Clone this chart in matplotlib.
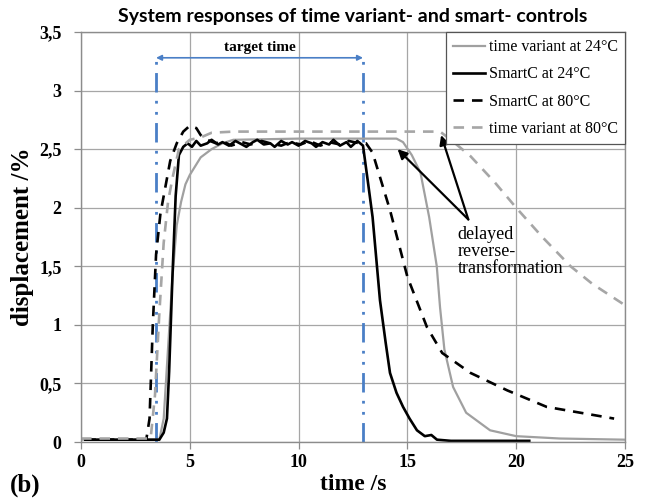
import matplotlib
matplotlib.use("Agg")
import matplotlib.pyplot as plt

# ---------------- data ----------------
tv24_t = [0, 3.6, 3.8, 4.0, 4.2, 4.4, 4.6, 4.8, 5.0, 5.5, 6.0, 6.5, 7.0, 10.0, 14.5, 14.8,
          15.2, 15.6, 16.0, 16.35, 16.5, 16.7, 17.1, 17.7, 18.8, 20.0, 22.0, 25.0]
tv24_y = [0.02, 0.02, 0.2, 0.8, 1.4, 1.85, 2.05, 2.2, 2.28, 2.43, 2.5, 2.55, 2.58, 2.59, 2.59, 2.56,
          2.45, 2.3, 1.92, 1.5, 1.15, 0.79, 0.47, 0.25, 0.1, 0.05, 0.03, 0.02]

sc24_t = [0.2, 3.6, 3.8, 3.95, 4.05, 4.2, 4.35, 4.5, 4.7, 4.9, 5.1, 5.3, 5.5, 5.8, 6.0, 6.3,
          6.5, 6.8, 7.1, 7.3, 7.6, 7.9, 8.1, 8.4, 8.7, 8.9, 9.2, 9.5, 9.7, 10.0, 10.3,
          10.6, 10.8, 11.1, 11.4, 11.6, 11.9, 12.2, 12.4, 12.7, 12.96, 13.2, 13.4, 13.74,
          14.0, 14.2, 14.5, 14.8, 15.1, 15.44, 15.8, 16.1, 16.36, 17.0, 18.0, 20.6]
sc24_y = [0.02, 0.02, 0.08, 0.2, 0.6, 1.4, 2.1, 2.45, 2.52, 2.55, 2.52, 2.57, 2.53, 2.55, 2.58, 2.54,
          2.56, 2.53, 2.57, 2.55, 2.52, 2.56, 2.58, 2.54, 2.55, 2.52, 2.57, 2.54, 2.56, 2.53, 2.57,
          2.55, 2.52, 2.56, 2.54, 2.58, 2.53, 2.56, 2.52, 2.57, 2.53, 2.2, 1.92, 1.21,
          0.85, 0.59, 0.42, 0.3, 0.2, 0.1, 0.05, 0.06, 0.02, 0.01, 0.01, 0.01]

sc80_t = [0.2, 3.0, 3.15, 3.3, 3.45, 3.65, 3.85, 4.1, 4.4, 4.7, 5.0, 5.3, 5.5, 5.8, 6.2, 6.5,
          6.9, 7.4, 7.8, 8.3, 8.7, 9.2, 9.6, 10.1, 10.5, 11.0, 11.4, 11.9, 12.3, 12.8, 13.1, 13.4,
          14.2, 15.0, 15.9, 16.6, 17.9, 19.6, 21.4, 24.5]
sc80_y = [0.02, 0.02, 0.2, 1.0, 1.6, 1.95, 2.15, 2.4, 2.55, 2.65, 2.7, 2.68, 2.62, 2.58, 2.55, 2.57,
          2.53, 2.56, 2.54, 2.57, 2.55, 2.53, 2.56, 2.54, 2.57, 2.53, 2.56, 2.54, 2.57, 2.55, 2.55, 2.47,
          1.98, 1.41, 0.98, 0.76, 0.59, 0.44, 0.3, 0.2]

tv80_t = [0, 3.2, 3.4, 3.6, 3.8, 4.0, 4.2, 4.5, 5.0, 5.5, 6.0, 7.0, 12.0, 16.5, 17.0, 17.9,
          19.0, 20.0, 21.2, 22.5, 23.5, 24.9]
tv80_y = [0.03, 0.03, 0.4, 1.1, 1.7, 2.05, 2.25, 2.5, 2.58, 2.6, 2.64, 2.65, 2.65, 2.65, 2.58, 2.44,
          2.22, 2.0, 1.75, 1.5, 1.35, 1.18]

target_start = 3.45
target_end = 12.96

x_ticks = [0, 5, 10, 15, 20, 25]
y_ticks = [0, 0.5, 1, 1.5, 2, 2.5, 3, 3.5]
y_tick_labels = ["0", "0,5", "1", "1,5", "2", "2,5", "3", "3,5"]

# ---------------- figure ----------------
serif = "Liberation Serif"
fig = plt.figure(figsize=(6.48, 4.98), dpi=100)
ax = fig.add_axes([0.125, 0.1124, 0.8395, 0.8233])

grid_c = "#a6a6a6"
ax.set_xlim(0, 25)
ax.set_ylim(0, 3.5)
ax.set_xticks(x_ticks)
ax.set_yticks(y_ticks)
ax.set_yticklabels(y_tick_labels)
ax.grid(True, color=grid_c, lw=0.9)
ax.set_axisbelow(True)
for s in ax.spines.values():
    s.set_color("#8c8c8c")
    s.set_linewidth(1.0)
ax.tick_params(axis="both", colors="#8c8c8c", length=5, width=0.9, labelcolor="black")
ax.tick_params(axis="y", pad=9)
for lab in ax.get_xticklabels() + ax.get_yticklabels():
    lab.set_fontfamily(serif)
    lab.set_fontweight("bold")
    lab.set_fontsize(13)

# target time lines
blue = "#4a7fc6"
ax.vlines([target_start, target_end], 0, 3.3, colors=blue, lw=2.0,
          linestyles=[(0, (7, 3, 1, 3, 1, 3))])
ax.annotate("", xy=(target_start, 3.28), xytext=(target_end, 3.28),
            arrowprops=dict(arrowstyle="<|-|>", color=blue, lw=1.2,
                            mutation_scale=8, shrinkA=0, shrinkB=0))
ax.text((target_start + target_end) / 2, 3.31, "target time", ha="center", va="bottom",
        fontfamily=serif, fontweight="bold", fontsize=11)

# curves
l1, = ax.plot(tv24_t, tv24_y, color="#a0a0a0", lw=1.6, label="time variant at 24°C")
l2, = ax.plot(sc24_t, sc24_y, color="black", lw=1.9, label="SmartC at 24°C")
l3, = ax.plot(sc80_t, sc80_y, color="black", lw=1.9, ls=(0, (4, 3)), label="SmartC at 80°C")
l4, = ax.plot(tv80_t, tv80_y, color="#a6a6a6", lw=1.9, ls=(0, (4, 3)), label="time variant at 80°C")

leg = ax.legend(handles=[l1, l2, l3, l4], loc="upper right", borderaxespad=0,
                prop={"family": serif, "size": 11.5}, frameon=True, fancybox=False,
                framealpha=1, edgecolor="#555555", handlelength=2.0, handletextpad=0.25,
                labelspacing=0.7, borderpad=0.45)
leg.get_frame().set_linewidth(0.9)

# annotation
ax.text(17.3, 1.84, "delayed\nreverse-\ntransformation", ha="left", va="top",
        fontfamily=serif, fontsize=13, linespacing=1.0)
for tip in [(14.55, 2.5), (16.55, 2.62)]:
    ax.annotate("", xy=tip, xytext=(17.8, 1.9),
                arrowprops=dict(arrowstyle="-|>", color="black", lw=1.6,
                                mutation_scale=14, shrinkA=0, shrinkB=0))

ax.set_xlabel("time /s", fontfamily=serif, fontweight="bold", fontsize=17, labelpad=2)
ax.set_ylabel("displacement /%", fontfamily=serif, fontweight="bold", fontsize=18, labelpad=4)
ax.set_title("System responses of time variant- and smart- controls",
             fontfamily="Lato", fontweight="bold", fontsize=14, pad=7)

fig.text(0.015, 0.012, "(b)", fontfamily=serif, fontweight="bold", fontsize=18)

fig.savefig("out.png", dpi=100)
